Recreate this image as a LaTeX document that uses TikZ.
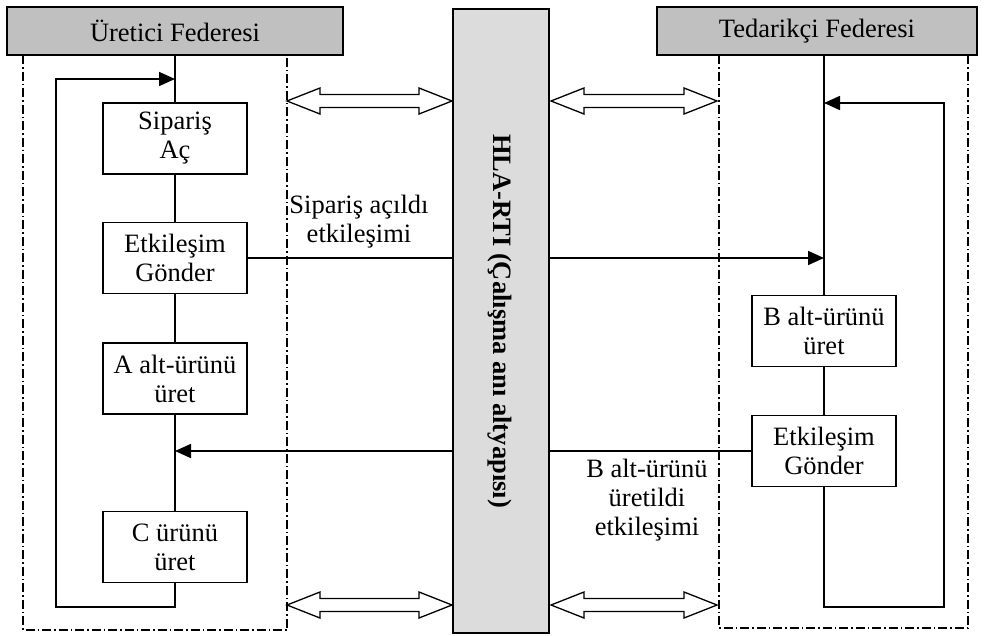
\documentclass[tikz,border=0pt]{standalone}
\usepackage{fontspec}
\setmainfont{Liberation Serif}
\usetikzlibrary{arrows.meta}
\definecolor{hdrgray}{HTML}{C0C0C0}
\definecolor{rtigray}{HTML}{DCDCDC}
% two-headed hollow arrow between x=#1 and x=#2 at height #3
\newcommand{\twoway}[3]{%
  \draw[line width=1.3pt, fill=white]
    (#1,#3) -- (#1+33,#3-13) -- (#1+33,#3-6.5) -- (#2-33,#3-6.5) -- (#2-33,#3-13)
    -- (#2,#3) -- (#2-33,#3+13) -- (#2-33,#3+6.5) -- (#1+33,#3+6.5) -- (#1+33,#3+13) -- cycle;}
\begin{document}
\begin{tikzpicture}[x=1pt, y=-1pt,
  every node/.style={font=\fontsize{26.5}{29}\selectfont},
  line/.style={line width=1.7pt},
  arr/.style={line width=1.7pt, -{Triangle[length=16pt,width=14pt]}},
  fedbox/.style={draw, line width=1.7pt, fill=hdrgray, minimum height=48pt, inner sep=0pt},
  stepbox/.style={draw, line width=1.7pt, fill=white, minimum width=144pt, minimum height=71pt,
                  align=center, inner sep=0pt},
  frame/.style={line width=1.5pt, dash pattern=on 9pt off 3pt on 1.5pt off 3pt},
  msg/.style={align=center, inner sep=0pt}]
\useasboundingbox (0,0) rectangle (984,635);

% federate frames
\draw[frame] (23,55) rectangle (287,630);
\draw[frame] (719,55) rectangle (968,628);

% headers
\node[fedbox, minimum width=336pt] (lh) at (175,31) {Üretici Federesi};
\node[fedbox, minimum width=320pt] (rh) at (817,31) {Tedarikçi Federesi};

% left federate steps
\node[stepbox] (sa) at (175,138.5) {Sipariş\\Aç};
\node[stepbox] (le) at (175,258) {Etkileşim\\Gönder};
\node[stepbox] (la) at (175,378.5) {A alt-ürünü\\üret};
\node[stepbox] (lc) at (175,547) {C ürünü\\üret};

% right federate steps
\node[stepbox] (rb) at (824,331) {B alt-ürünü\\üret};
\node[stepbox] (re) at (824,451) {Etkileşim\\Gönder};

% loop corners
\coordinate (lloopb) at (56,607);
\coordinate (lloopt) at (56,79);
\coordinate (rloopb) at (944,607);
\coordinate (rloopt) at (944,103);

% lifelines and loops
\draw[line] (lh.south -| sa) -- (sa.north);
\draw[line] (sa.south) -- (le.north);
\draw[line] (le.south) -- (la.north);
\draw[line] (la.south) -- (lc.north);
\draw[arr] (lc.south) |- (lloopb) -- (lloopt) -- (lloopt -| sa);

\draw[line] (rh.south -| rb) -- (rb.north);
\draw[line] (rb.south) -- (re.north);
\draw[arr] (re.south) |- (rloopb) -- (rloopt) -- (rloopt -| rb);

% interactions through the RTI
\draw[arr] (le.east) -- (le.east -| rb);
\draw[arr] (re.west) -- (re.west -| sa);

% RTI bar
\node[draw, line width=1.7pt, fill=rtigray, minimum width=96pt, minimum height=624pt, inner sep=0pt]
  (rti) at (501,321) {};
\node[rotate=-90, font=\fontsize{26.5}{29}\selectfont\bfseries] (rtitext) at (500,321)
  {HLA-RTI (Çalışma anı altyapısı)};

% message labels
\node[msg] (m1) at (359,222) {Sipariş açıldı\\etkileşimi};
\node[msg] (m2) at (647,500) {B alt-ürünü\\üretildi\\etkileşimi};

% federate <-> RTI links
\twoway{287}{452}{101}
\twoway{551}{717}{101}
\twoway{287}{452}{605}
\twoway{551}{717}{605}
\end{tikzpicture}
\end{document}
